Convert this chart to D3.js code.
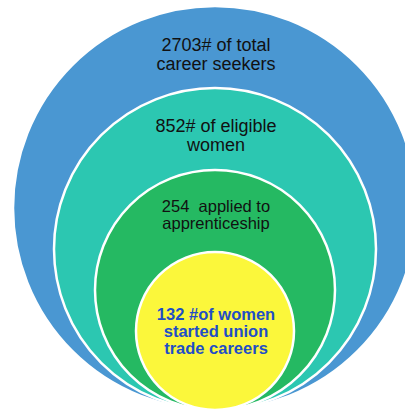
<!DOCTYPE html>
<html>
<head>
<meta charset="utf-8">
<script src="https://cdn.jsdelivr.net/npm/d3@7"></script>
<style>
  html, body { margin: 0; padding: 0; background: #fff; }
  svg { display: block; }
</style>
</head>
<body>
<div id="chart"></div>
<script>
// donnees (du plus grand au plus petit cercle)
const stages = ["total", "eligible", "applied", "started"];
const counts = [2703, 852, 254, 132];
const labelLines = [
  ["2703# of total", "career seekers"],
  ["852# of eligible", "women"],
  ["254  applied to", "apprenticeship"],
  ["132 #of women", "started union", "trade careers"]
];
const fills = ["#4a97d2", "#2cc7b1", "#25b962", "#fbf73b"];
const textColors = ["#111", "#111", "#111", "#1f4ec6"];

const width = 405, height = 412;
const cx = 215, bottom = 410;

// mise en forme du texte de chaque cercle
const textStyle = [
  { size: 18, weight: "normal", dy: 45, lh: 18.5 },
  { size: 18, weight: "normal", dy: 44, lh: 19 },
  { size: 16.5, weight: "normal", dy: 42, lh: 17 },
  { size: 16.5, weight: "bold", dy: 68, lh: 17 }
];

const svg = d3.select("#chart")
  .append("svg")
  .attr("width", width)
  .attr("height", height);

// rayon : un cercle par etape, imbriques et poses sur la meme base
const radius = d3.scalePoint()
  .domain(stages)
  .range([202, 79]);

const data = stages.map((s, i) => ({
  stage: s, count: counts[i], lines: labelLines[i],
  fill: fills[i], color: textColors[i], st: textStyle[i]
}));

const groups = svg.selectAll("g.stage")
  .data(data)
  .join("g")
  .attr("class", "stage");

groups.append("circle")
  .attr("cx", cx)
  .attr("cy", d => bottom - radius(d.stage))
  .attr("r", d => radius(d.stage))
  .style("fill", d => d.fill)
  .style("stroke", "#fff")
  .style("stroke-width", 2.5);

groups.append("text")
  .attr("text-anchor", "middle")
  .attr("xml:space", "preserve")
  .style("font-family", "'Liberation Sans', Arial, sans-serif")
  .style("font-size", d => d.st.size + "px")
  .style("font-weight", d => d.st.weight)
  .style("fill", d => d.color)
  .each(function (d) {
    const top = bottom - 2 * radius(d.stage);
    d3.select(this).selectAll("tspan")
      .data(d.lines)
      .join("tspan")
      .attr("x", cx + 1)
      .attr("y", (t, j) => top + d.st.dy + j * d.st.lh)
      .style("white-space", "pre")
      .text(t => t);
  });
</script>
</body>
</html>
